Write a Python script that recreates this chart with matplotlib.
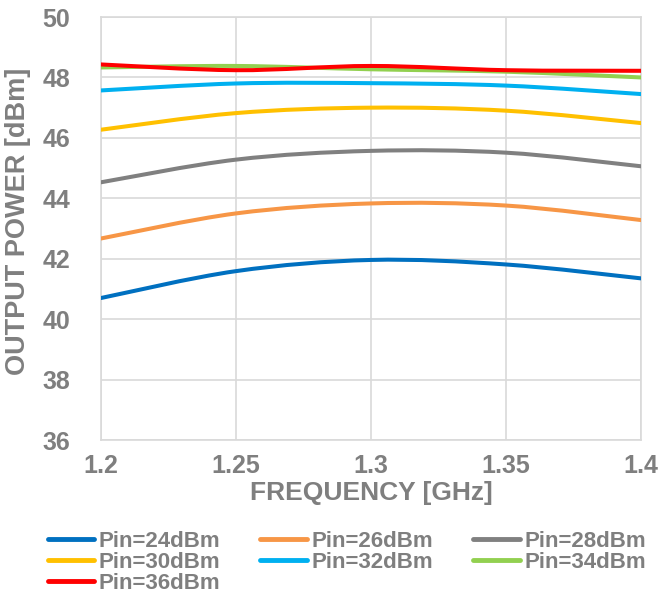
import numpy as np
import matplotlib
matplotlib.use("Agg")
import matplotlib.pyplot as plt
from matplotlib.path import Path
from matplotlib.patches import PathPatch
from matplotlib.lines import Line2D

plt.rcParams['font.family'] = ['Liberation Sans', 'DejaVu Sans']
plt.rcParams['font.weight'] = 'bold'

freq = [1.2, 1.25, 1.3, 1.35, 1.4]

pout_24 = [40.70, 41.59, 41.96, 41.81, 41.35]
pout_26 = [42.67, 43.50, 43.83, 43.76, 43.28]
pout_28 = [44.53, 45.28, 45.57, 45.51, 45.06]
pout_30 = [46.27, 46.82, 47.00, 46.90, 46.49]
pout_32 = [47.57, 47.80, 47.81, 47.73, 47.45]
pout_34 = [48.33, 48.38, 48.27, 48.19, 48.00]
pout_36 = [48.43, 48.24, 48.38, 48.24, 48.22]

labels = ["Pin=24dBm", "Pin=26dBm", "Pin=28dBm", "Pin=30dBm",
          "Pin=32dBm", "Pin=34dBm", "Pin=36dBm"]
colors = ["#0070c0", "#f79646", "#808080", "#ffc000",
          "#00b0f0", "#92d050", "#ff0000"]
series = [pout_24, pout_26, pout_28, pout_30, pout_32, pout_34, pout_36]

txt = "#7f7f7f"
grid_c = "#d9d9d9"


def smooth_path(x, y, t=1/6):
    # cubic bezier through the points, spreadsheet-style smoothing
    p = np.column_stack([x, y]).astype(float)
    n = len(p)
    verts = [p[0]]
    codes = [Path.MOVETO]
    for i in range(n - 1):
        p0 = p[i - 1] if i > 0 else p[i]
        p1, p2 = p[i], p[i + 1]
        p3 = p[i + 2] if i + 2 < n else p[i + 1]
        c1 = p1 + (p2 - p0) * t
        c2 = p2 - (p3 - p1) * t
        verts += [c1, c2, p2]
        codes += [Path.CURVE4] * 3
    return Path(verts, codes)


fig = plt.figure(figsize=(6.61, 5.99), dpi=100)
ax = fig.add_axes([0.1528, 0.2654, 0.8170, 0.7062])

for vals, c in zip(series, colors):
    ax.add_patch(PathPatch(smooth_path(freq, vals), fill=False,
                           edgecolor=c, lw=2.9, capstyle='round', zorder=3))

ax.set_xlim(1.2, 1.4)
ax.set_ylim(36, 50)
ax.set_xticks([1.2, 1.25, 1.3, 1.35, 1.4])
ax.set_xticklabels(["1.2", "1.25", "1.3", "1.35", "1.4"])
ax.set_yticks(range(36, 51, 2))
ax.grid(True, color=grid_c, lw=1.2)
ax.set_axisbelow(True)
for s in ax.spines.values():
    s.set_color(grid_c)
    s.set_linewidth(1.2)
ax.tick_params(length=0, labelsize=18, labelcolor=txt)
ax.tick_params(axis='y', pad=22)
ax.tick_params(axis='x', pad=10)

ax.set_xlabel("FREQUENCY [GHz]", fontsize=19, fontweight='bold', color=txt, labelpad=2)
ax.set_ylabel("OUTPUT POWER [dBm]", fontsize=19.5, fontweight='bold', color=txt)
ax.yaxis.set_label_coords(-0.13, 0.5165)

# legend fills column by column, so reorder to read across rows
order = [0, 3, 6, 1, 4, 2, 5]
handles = [Line2D([], [], color=colors[i], lw=3.5, solid_capstyle='round') for i in order]
fig.legend(handles, [labels[i] for i in order], ncol=3, loc='upper left',
           bbox_to_anchor=(0.072, 1 - 531 / 599), frameon=False,
           prop={'size': 16, 'weight': 'bold'}, labelcolor=txt,
           handlelength=2.1, handletextpad=0.2, columnspacing=1.8,
           labelspacing=0.0, borderpad=0, borderaxespad=0)

fig.savefig("out.png", dpi=100)
